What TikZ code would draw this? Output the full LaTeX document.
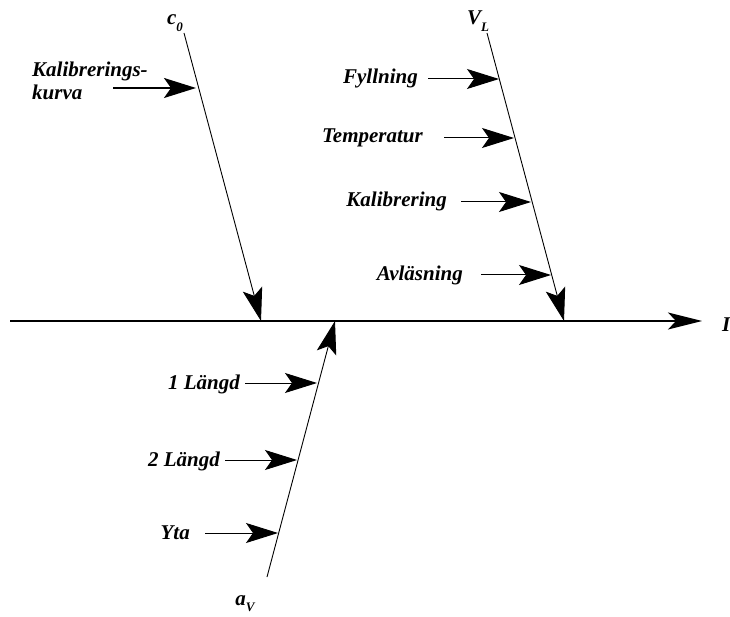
\documentclass[tikz,border=0pt]{standalone}
\usepackage{fontspec}
\setmainfont{Liberation Serif}
\usetikzlibrary{arrows.meta}
\newcommand\lowidx[1]{\raisebox{-0.3em}{\fontsize{13}{13}\selectfont #1}}
\begin{document}
\begin{tikzpicture}[x=1pt,y=-1pt,
    lbl/.style={inner sep=0pt,font=\fontsize{21}{23}\selectfont\bfseries\itshape},
    cause/.style={line width=1pt,-{Stealth[length=32pt,width=20pt,inset=7pt]}},
    bone/.style={line width=0.9pt,-{Stealth[length=33pt,width=20pt,inset=7pt]}},
    spine/.style={line width=1.6pt,-{Stealth[length=34pt,width=17pt,inset=8pt]}}]
  \useasboundingbox (0,0) rectangle (730,617);

  % main axis
  \coordinate (axL) at (10,321);
  \coordinate (axR) at (702,321);
  \draw[spine] (axL) -- (axR);
  \node[lbl,anchor=base west] (res) at (722,331) {I};

  % branch c_0
  \coordinate (c0top) at (184,33);
  \coordinate (c0tip) at (261,321);
  \draw[bone] (c0top) -- (c0tip);
  \node[lbl] (c0) at (175,23) {c\lowidx{0}};

  % branch V_L
  \coordinate (vltop) at (487,33);
  \coordinate (vltip) at (564,321);
  \draw[bone] (vltop) -- (vltip);
  \node[lbl] (vl) at (478,21) {V\lowidx{L}};

  % branch a_v
  \coordinate (avbot) at (267,577);
  \coordinate (avtip) at (335,321);
  \draw[bone] (avbot) -- (avtip);
  \node[lbl] (av) at (245,604) {a\lowidx{V}};

  % causes on c_0
  \node[lbl,anchor=west,align=left] (kk) at (32,81) {Kalibrerings-\\kurva};
  \coordinate (kkA) at (113,88);
  \coordinate (kkB) at (196,88);
  \draw[cause,line width=2pt] (kkA) -- (kkB);

  % causes on V_L
  \node[lbl,anchor=base east] (fy) at (418,84) {Fyllning};
  \coordinate (fyA) at (428,79);
  \coordinate (fyB) at (499,79);
  \draw[cause] (fyA) -- (fyB);

  \node[lbl,anchor=base east] (te) at (423,143) {Temperatur};
  \coordinate (teA) at (444,138);
  \coordinate (teB) at (514,138);
  \draw[cause] (teA) -- (teB);

  \node[lbl,anchor=base east] (ka) at (447,207) {Kalibrering};
  \coordinate (kaA) at (461,202);
  \coordinate (kaB) at (531,202);
  \draw[cause] (kaA) -- (kaB);

  \node[lbl,anchor=base east] (al) at (463,280) {Avläsning};
  \coordinate (alA) at (481,275);
  \coordinate (alB) at (551,275);
  \draw[cause] (alA) -- (alB);

  % causes on a_v
  \node[lbl,anchor=base east] (l1) at (240,389) {1 Längd};
  \coordinate (l1A) at (245,383);
  \coordinate (l1B) at (317,383);
  \draw[cause] (l1A) -- (l1B);

  \node[lbl,anchor=base east] (l2) at (220,466) {2 Längd};
  \coordinate (l2A) at (225,460);
  \coordinate (l2B) at (297,460);
  \draw[cause] (l2A) -- (l2B);

  \node[lbl,anchor=base east] (yt) at (190,539) {Yta};
  \coordinate (ytA) at (205,533);
  \coordinate (ytB) at (278,533);
  \draw[cause] (ytA) -- (ytB);
\end{tikzpicture}
\end{document}
